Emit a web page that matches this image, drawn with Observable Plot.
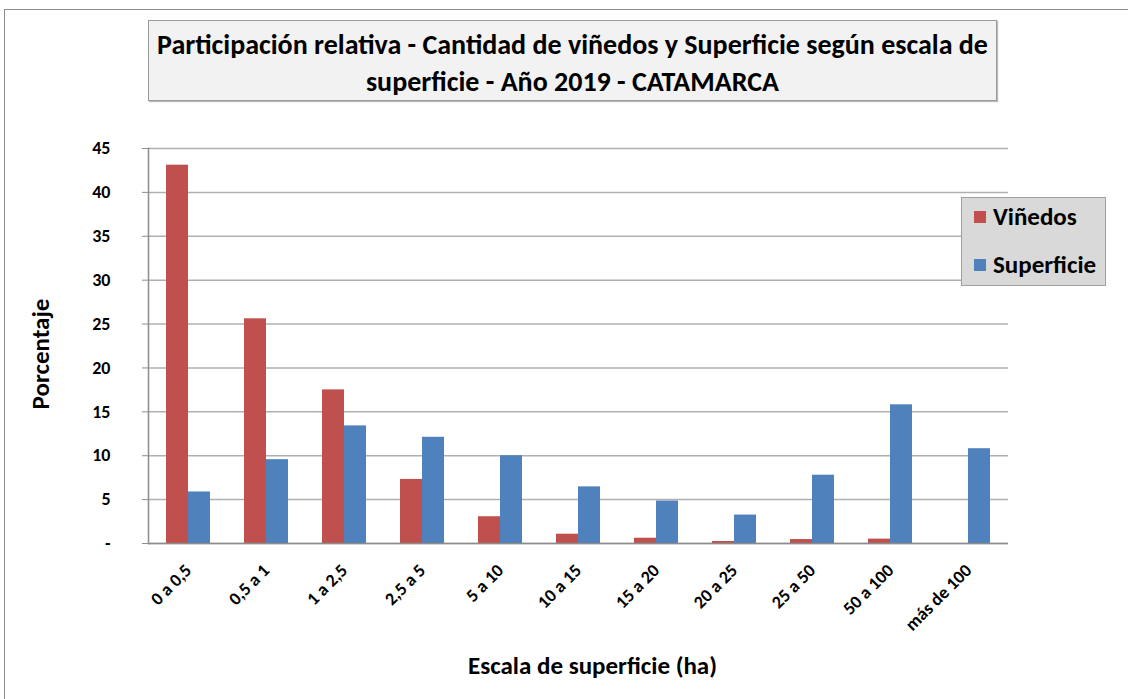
<!DOCTYPE html>
<html><head><meta charset="utf-8">
<script src="https://cdn.jsdelivr.net/npm/d3@7"></script>
<script src="https://cdn.jsdelivr.net/npm/@observablehq/plot@0.6"></script>
<style>
body{margin:0;background:#fff;}
#wrap{position:relative;width:1128px;height:699px;overflow:hidden;font-family:Carlito,"Liberation Sans Narrow","Liberation Sans",sans-serif;}
#frame{position:absolute;left:4px;top:9px;width:1200px;height:800px;border:1px solid #8c8c8c;box-sizing:border-box;}
#chart{position:absolute;left:0;top:0;}
#title{position:absolute;left:148px;top:20px;width:849px;height:81px;box-sizing:border-box;background:#f2f2f2;border:1px solid #9a9a9a;box-shadow:1px 1px 1px #bbb;text-align:center;font-weight:bold;font-size:28px;line-height:37px;padding-top:5px;color:#000;white-space:nowrap;}
#legend{position:absolute;left:961px;top:197px;width:145px;height:89px;box-sizing:border-box;background:#d9d9d9;border:1px solid #a0a0a0;font-weight:bold;font-size:25px;color:#000;}
.item{position:absolute;left:12px;display:flex;align-items:center;}
.sw{width:12px;height:12px;margin-right:7px;}
</style>
</head><body>
<div id="wrap">
<div id="frame"></div>
<div id="chart"></div>
<div id="title">Participación relativa - Cantidad de viñedos y Superficie según escala de<br>superficie - Año 2019 - CATAMARCA</div>
<div id="legend"></div>
</div>
<script>
const categories = ["0 a 0,5","0,5 a 1","1 a 2,5","2,5 a 5","5 a 10","10 a 15","15 a 20","20 a 25","25 a 50","50 a 100","más de 100"];
const vinedos = [43.1, 25.6, 17.5, 7.3, 3.05, 1.06, 0.6, 0.23, 0.45, 0.5, 0];
const superficie = [5.87, 9.55, 13.4, 12.1, 10.0, 6.45, 4.84, 3.24, 7.78, 15.8, 10.8];
const yTicks = [0, 5, 10, 15, 20, 25, 30, 35, 40, 45];
const seriesNames = ["Viñedos", "Superficie"];
const seriesColors = ["#C0504D", "#4F81BD"];

const rowsV = categories.map((c, i) => ({cat: c, value: vinedos[i]}));
const rowsS = categories.map((c, i) => ({cat: c, value: superficie[i]}));

const font = 'Carlito, "Liberation Sans Narrow", "Liberation Sans", sans-serif';

const chart = Plot.plot({
  width: 1128,
  height: 699,
  marginTop: 148,
  marginBottom: 156,
  marginLeft: 148,
  marginRight: 120,
  style: {fontFamily: font, color: "#000", background: "transparent", overflow: "visible"},
  x: {domain: categories, paddingInner: 0.72, paddingOuter: 0.36, label: null},
  y: {domain: [0, 45], label: null},
  marks: [
    Plot.gridY(yTicks, {stroke: "#b0b0b0", strokeOpacity: 1, strokeWidth: 1.5}),
    Plot.barY(rowsV, {x: "cat", y: "value", fill: seriesColors[0], dx: -11}),
    Plot.barY(rowsS, {x: "cat", y: "value", fill: seriesColors[1], dx: 11}),
    Plot.ruleY([0], {stroke: "#8c8c8c", strokeWidth: 1.5}),
    Plot.frame({anchor: "left", stroke: "#8c8c8c", strokeWidth: 1.5}),
    Plot.axisY(yTicks, {tickFormat: d => d === 0 ? "-" : String(d), tickSize: 6, tickPadding: 32, stroke: "#8c8c8c", fontSize: 18, fontWeight: "bold", label: null}),
    Plot.axisX({tickRotate: -45, tickSize: 0, tickPadding: 24, dx: 0, fontSize: 18, fontWeight: "bold", label: null}),
    Plot.text(["Porcentaje"], {frameAnchor: "left", textAnchor: "middle", dx: -108, dy: 8, rotate: -90, fontSize: 25, fontWeight: "bold"}),
    Plot.text(["Escala de superficie (ha)"], {frameAnchor: "bottom", dx: 14, dy: 130, fontSize: 25, fontWeight: "bold"})
  ]
});
document.getElementById("chart").appendChild(chart);

const legend = document.getElementById("legend");
seriesNames.forEach((name, i) => {
  const it = document.createElement("div");
  it.className = "item";
  it.style.top = (i === 0 ? 3 : 51) + "px";
  it.innerHTML = `<span class="sw" style="background:${seriesColors[i]}"></span><span>${name}</span>`;
  legend.appendChild(it);
});
</script>
</body></html>
